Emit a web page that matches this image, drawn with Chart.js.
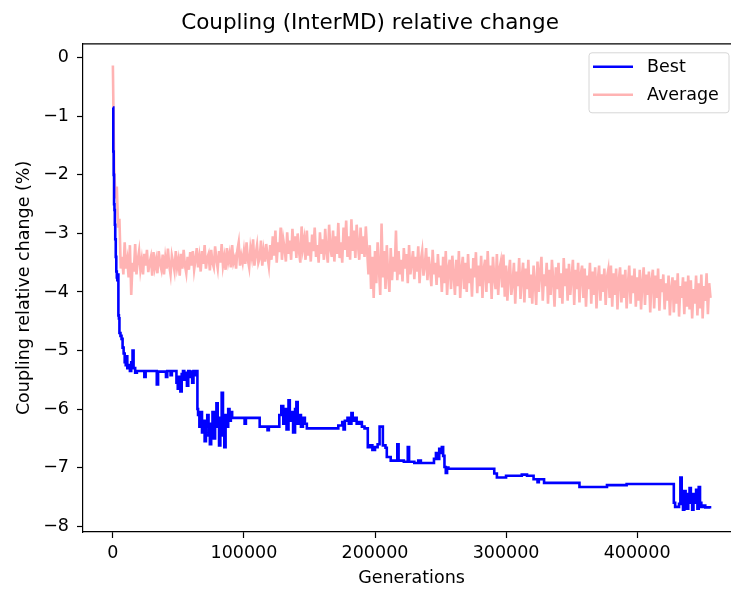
<!DOCTYPE html>
<html><head><meta charset="utf-8">
<script src="https://cdn.jsdelivr.net/npm/chart.js@4.4.1/dist/chart.umd.min.js"></script>
<style>
html,body{margin:0;padding:0;overflow:hidden;background:#fff;width:731px;height:589px}
#wrap{position:absolute;left:0;top:0;width:823px;height:589px}
canvas{display:block}
</style></head><body>
<div id="wrap"><canvas id="c" width="823" height="589" style="width:823px;height:589px"></canvas></div>
<script>
const chartTitle = 'Coupling (InterMD) relative change';
const xLabel = 'Generations';
const yLabel = 'Coupling relative change (%)';
const seriesNames = ['Best', 'Average'];
const xTicks = [0, 100000, 200000, 300000, 400000];
const yTicks = [-8, -7, -6, -5, -4, -3, -2, -1, 0];

// Best: generation at which each value starts (step line)
const bestGen = [
  0,300,600,900,1200,1500,1800,2200,2600,3000,3400,3800,4200,4600,5000,5800,6600,7400,8200,9000,9800,10500,11000,12000,13000,14000,15000,15800,17000,18300,
  24000,25000,33500,34500,40500,41500,44000,45000,48500,49500,50500,51500,52500,53500,54500,55500,56500,57500,58500,59500,60500,61500,62500,63500,
  64500,65000,66000,67000,68000,69000,70000,71000,72000,73000,74000,75000,76000,77000,78000,79000,80000,81000,82000,83000,84000,85000,86000,87000,88000,89000,90000,91000,
  100500,101500,112000,118000,119000,
  127000,128500,130000,131000,132500,134000,135000,136000,137500,139000,140000,141000,142000,143500,145000,146500,148000,
  172000,175000,176000,177000,179000,180000,182000,183000,184500,186000,188000,190000,192000,
  194500,196000,198000,200000,202000,203500,206000,208000,
  209000,212000,217000,218000,222000,225000,226000,230000,233000,235000,
  245000,246500,248000,249000,250000,251000,252000,
  253000,254000,255000,256000,
  291000,293000,300000,312000,316000,321000,324000,325000,329000,
  356000,377000,392000,
  428000,429000,432000,433000,434000,435000,436000,437000,438000,439000,440000,441000,442000,443000,444000,445000,446000,447000,448000,449000,450000,452000,455600
];
const bestVal = [
  -0.85,-1.6,-2.0,-2.5,-2.6,-2.85,-3.1,-3.4,-3.65,-3.75,-3.8,-3.7,-4.4,-4.45,-4.7,-4.75,-4.8,-4.95,-5.05,-5.2,-5.25,-5.1,-5.3,-5.25,-5.35,-5.2,-5.0,-5.3,-5.38,-5.35,
  -5.45,-5.35,-5.58,-5.36,-5.45,-5.35,-5.42,-5.35,-5.55,-5.65,-5.45,-5.7,-5.4,-5.35,-5.5,-5.38,-5.6,-5.35,-5.45,-5.36,-5.55,-5.35,-5.42,-5.35,
  -6.0,-6.1,-6.3,-6.05,-6.4,-6.2,-6.55,-6.3,-6.1,-6.45,-6.6,-6.25,-6.05,-6.5,-6.2,-5.9,-6.3,-6.62,-6.15,-5.72,-6.45,-6.65,-6.1,-6.3,-6.0,-6.2,-6.05,-6.15,
  -6.25,-6.15,-6.3,-6.36,-6.3,
  -6.1,-5.95,-6.25,-6.0,-6.35,-5.85,-6.2,-6.05,-6.4,-6.0,-5.88,-6.25,-6.1,-6.3,-6.15,-6.25,-6.33,
  -6.28,-6.22,-6.35,-6.2,-6.15,-6.25,-6.07,-6.2,-6.15,-6.25,-6.22,-6.3,-6.33,
  -6.65,-6.62,-6.7,-6.65,-6.6,-6.3,-6.62,-6.66,
  -6.82,-6.88,-6.6,-6.88,-6.9,-6.65,-6.9,-6.92,-6.88,-6.92,
  -6.85,-6.75,-6.85,-6.68,-6.75,-6.65,-6.8,
  -6.99,-7.09,-7.0,-7.02,
  -7.1,-7.17,-7.14,-7.12,-7.14,-7.2,-7.25,-7.2,-7.26,
  -7.33,-7.3,-7.28,
  -7.6,-7.67,-7.62,-7.17,-7.5,-7.72,-7.4,-7.55,-7.7,-7.45,-7.35,-7.6,-7.72,-7.45,-7.6,-7.38,-7.7,-7.33,-7.6,-7.67,-7.65,-7.68,-7.7
];

// Average: one value every avgStep generations (rows of 20 = 20000 generations)
const avgStep = 1000;
const avgVal = [
  -0.13,-1.9,-2.4,-2.2,-2.9,-2.75,-3.6,-3.4,-3.7,-3.15,-3.6,-3.45,-3.75,-3.2,-4.05,-3.5,-3.65,-3.18,-3.7,-3.45,
  -3.3,-3.62,-3.45,-3.7,-3.35,-3.55,-3.28,-3.66,-3.5,-3.4,-3.72,-3.32,-3.58,-3.45,-3.68,-3.3,-3.52,-3.62,-3.36,-3.7,
  -3.42,-3.6,-3.26,-3.55,-3.7,-3.38,-3.5,-3.64,-3.3,-3.58,-3.45,-3.72,-3.35,-3.6,-3.28,-3.55,-3.68,-3.4,-3.62,-3.32,
  -3.55,-3.3,-3.62,-3.45,-3.25,-3.58,-3.4,-3.65,-3.3,-3.52,-3.2,-3.6,-3.42,-3.35,-3.63,-3.28,-3.5,-3.58,-3.22,-3.45,
  -3.6,-3.3,-3.5,-3.18,-3.55,-3.4,-3.62,-3.25,-3.48,-3.35,-3.58,-3.2,-3.5,-3.42,-3.6,-3.28,-3.15,-3.55,-3.38,-3.5,
  -3.3,-3.52,-3.15,-3.45,-3.58,-3.25,-3.4,-3.1,-3.55,-3.35,-3.2,-3.5,-3.42,-3.12,-3.55,-3.3,-3.48,-3.18,-3.4,-3.56,
  -3.2,-3.45,-3.05,-3.38,-2.95,-3.5,-3.15,-3.32,-2.9,-3.45,-3.1,-3.25,-3.48,-2.98,-3.35,-3.12,-3.45,-2.92,-3.3,-3.05,
  -3.42,-3.0,-3.3,-3.5,-2.88,-3.25,-3.1,-3.45,-2.95,-3.38,-3.15,-3.48,-3.02,-3.3,-2.9,-3.4,-3.2,-3.5,-2.98,-3.35,
  -3.1,-3.45,-2.92,-3.3,-3.5,-2.85,-3.25,-3.4,-2.95,-3.48,-3.05,-3.35,-2.82,-3.42,-3.15,-3.5,-2.9,-3.28,-2.78,-3.4,
  -3.05,-3.45,-2.76,-3.3,-2.95,-3.42,-2.85,-3.2,-3.45,-2.9,-3.35,-3.05,-3.4,-2.88,-3.3,-3.7,-3.2,-3.95,-3.4,-4.1,
  -3.3,-3.85,-3.15,-3.6,-4.05,-2.83,-3.75,-3.3,-3.95,-3.2,-3.7,-4.0,-3.25,-3.8,-3.4,-3.65,-2.95,-3.8,-3.3,-3.7,
  -3.45,-3.82,-3.25,-3.6,-3.35,-3.85,-3.2,-3.7,-3.5,-3.3,-3.78,-3.4,-3.65,-3.22,-3.85,-3.45,-3.3,-3.72,-3.55,-3.25,
  -3.8,-3.4,-3.62,-3.9,-3.28,-3.7,-3.5,-3.88,-3.35,-3.75,-3.55,-4.0,-3.4,-3.85,-3.3,-4.05,-3.6,-3.45,-3.95,-3.38,
  -3.7,-4.05,-3.45,-3.9,-3.3,-4.1,-3.6,-3.4,-3.95,-3.5,-4.0,-3.35,-3.85,-3.6,-4.08,-3.42,-3.75,-3.32,-4.02,-3.55,
  -3.9,-3.38,-4.1,-3.6,-3.45,-4.0,-3.3,-3.85,-3.55,-4.12,-3.4,-3.75,-3.95,-3.35,-4.05,-3.6,-3.48,-3.92,-3.36,-4.08,
  -3.55,-4.15,-3.7,-3.45,-4.05,-3.85,-3.5,-4.2,-3.65,-3.9,-3.42,-4.12,-3.75,-3.5,-4.18,-3.6,-3.95,-3.45,-4.1,-3.7,
  -4.2,-3.55,-3.85,-4.22,-3.48,-4.0,-3.65,-3.4,-4.15,-3.7,-3.9,-3.5,-4.2,-3.62,-4.05,-3.45,-3.8,-4.25,-3.58,-3.95,
  -3.5,-4.1,-3.68,-4.2,-3.42,-3.9,-3.6,-4.15,-3.52,-4.05,-3.75,-3.45,-4.22,-3.62,-3.95,-3.5,-4.18,-3.7,-3.55,-4.1,
  -3.6,-4.25,-3.72,-3.95,-3.5,-4.2,-3.65,-4.05,-3.58,-4.28,-3.8,-3.55,-4.15,-3.7,-4.0,-3.6,-4.22,-3.75,-3.62,-4.1,
  -3.55,-4.25,-3.68,-4.05,-3.6,-4.3,-3.8,-3.58,-4.18,-3.7,-4.1,-3.62,-4.28,-3.85,-3.55,-4.2,-3.72,-4.02,-3.6,-4.25,
  -3.75,-4.15,-3.62,-4.3,-3.85,-3.58,-4.22,-3.7,-4.05,-3.65,-4.35,-3.8,-3.62,-4.28,-3.72,-4.1,-3.6,-4.32,-3.78,-4.0,
  -3.7,-4.3,-3.85,-4.15,-3.72,-4.4,-3.95,-3.75,-4.35,-3.8,-4.2,-3.68,-4.42,-3.9,-4.1,-3.75,-4.38,-3.82,-4.25,-3.72,
  -4.3,-3.8,-4.45,-3.95,-4.2,-3.72,-4.4,-3.85,-4.28,-3.7,-4.45,-3.9,-4.15,-3.68,-4.38,-3.85,-4.1
];

const bestPts = bestVal.map((v, i) => ({x: bestGen[i], y: v}));
const avgPts = avgVal.map((v, i) => ({x: i * avgStep, y: v}));

const FONT = 'DejaVu Sans';
Chart.defaults.color = '#000';
Chart.defaults.font.family = FONT;

const fmtNum = v => (v < 0 ? '\u2212' + Math.abs(v) : String(v));

const topSpine = {
  id: 'topSpine',
  afterDatasetsDraw(chart) {
    const {ctx, chartArea: a} = chart;
    ctx.save();
    ctx.strokeStyle = '#000';
    ctx.lineWidth = 1.2;
    ctx.beginPath();
    ctx.moveTo(a.left, a.top);
    ctx.lineTo(a.right, a.top);
    ctx.lineTo(a.right, a.bottom);
    ctx.stroke();
    ctx.restore();
  }
};

const boxLegend = {
  id: 'boxLegend',
  afterDraw(chart) {
    const {ctx, chartArea: a} = chart;
    const w = 140, h = 60;
    const left = a.right - 11 - w, top = a.top + 9;
    ctx.save();
    ctx.beginPath();
    const r = 3;
    ctx.moveTo(left + r, top);
    ctx.arcTo(left + w, top, left + w, top + h, r);
    ctx.arcTo(left + w, top + h, left, top + h, r);
    ctx.arcTo(left, top + h, left, top, r);
    ctx.arcTo(left, top, left + w, top, r);
    ctx.closePath();
    ctx.fillStyle = 'rgba(255,255,255,0.8)';
    ctx.fill();
    ctx.strokeStyle = '#d6d6d6';
    ctx.lineWidth = 1;
    ctx.stroke();
    chart.data.datasets.forEach((ds, i) => {
      const y = top + 14 + i * 28;
      ctx.beginPath();
      ctx.strokeStyle = ds.borderColor;
      ctx.lineWidth = 2.6;
      ctx.moveTo(left + 4, y);
      ctx.lineTo(left + 44, y);
      ctx.stroke();
      ctx.fillStyle = '#000';
      ctx.font = '17.5px "' + FONT + '"';
      ctx.textBaseline = 'middle';
      ctx.textAlign = 'left';
      ctx.fillText(ds.label, left + 58, y + 1);
    });
    ctx.restore();
  }
};

new Chart(document.getElementById('c'), {
  type: 'line',
  data: {
    datasets: [
      {label: seriesNames[0], data: bestPts, borderColor: '#0000ff', borderWidth: 2.6, pointRadius: 0, stepped: true, fill: false},
      {label: seriesNames[1], data: avgPts, borderColor: '#ffb3b3', borderWidth: 2.6, pointRadius: 0, tension: 0, fill: false}
    ]
  },
  options: {
    responsive: false,
    animation: false,
    devicePixelRatio: 1,
    layout: {padding: {left: 0, right: 83, top: 0, bottom: 0}},
    plugins: {
      legend: {display: false},
      tooltip: {enabled: false},
      title: {display: true, text: chartTitle, color: '#000',
        font: {family: FONT, size: 21.5, weight: 'normal'},
        padding: {top: 11, bottom: 7}}
    },
    scales: {
      x: {
        type: 'linear', min: -22800, max: 478500,
        afterBuildTicks: s => { s.ticks = xTicks.map(v => ({value: v})); },
        afterFit: s => { s.height = 57; },
        ticks: {callback: v => fmtNum(v), font: {size: 17.5}, padding: 5, maxRotation: 0, autoSkip: false},
        grid: {drawOnChartArea: false, drawTicks: true, tickLength: 6, tickColor: '#000', tickWidth: 1.2},
        border: {display: true, color: '#000', width: 1.2},
        title: {display: true, text: xLabel, font: {size: 17.5}, padding: {top: 0, bottom: 0.5}}
      },
      y: {
        type: 'linear', min: -8.1, max: 0.24,
        afterBuildTicks: s => { s.ticks = yTicks.map(v => ({value: v})); },
        afterFit: s => { s.width = 83; },
        ticks: {callback: v => fmtNum(v), font: {size: 17.5}, padding: 8, autoSkip: false},
        grid: {drawOnChartArea: false, drawTicks: true, tickLength: 6, tickColor: '#000', tickWidth: 1.2},
        border: {display: true, color: '#000', width: 1.2},
        title: {display: true, text: yLabel, font: {size: 17.5}, padding: {top: 14, bottom: 0}}
      }
    }
  },
  plugins: [topSpine, boxLegend]
});
</script>
</body></html>
